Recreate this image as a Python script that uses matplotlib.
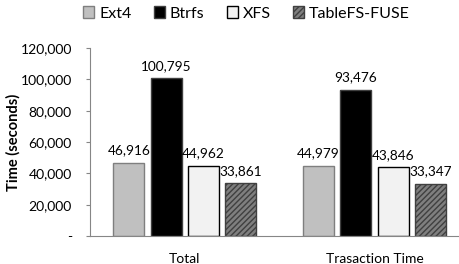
import numpy as np
import matplotlib.pyplot as plt

plt.rcParams['font.family'] = ['Lato', 'DejaVu Sans']
plt.rcParams['hatch.linewidth'] = 1.0

groups = ['Total', 'Trasaction Time']
systems = ['Ext4', 'Btrfs', 'XFS', 'TableFS-FUSE']
ext4 = [46916, 44979]
btrfs = [100795, 93476]
xfs = [44962, 43846]
tablefs = [33861, 33347]

values = [ext4, btrfs, xfs, tablefs]
faces = ['#c0c0c0', '#000000', '#f2f2f2', '#7f7f7f']
edges = ['#7f7f7f', '#404040', '#000000', '#404040']
hatches = [None, None, None, '//////']

fig = plt.figure(figsize=(4.59, 2.64), dpi=100)
ax = fig.add_axes([0.196, 0.106, 0.802, 0.712])

x = np.arange(len(groups))
step = 0.197
width = 0.163
for i, vals in enumerate(values):
    pos = x + (i - 1.5) * step
    bars = ax.bar(pos, vals, width, color=faces[i], edgecolor=edges[i],
                  linewidth=1.0, hatch=hatches[i], label=systems[i])
    for b, v in zip(bars, vals):
        ax.text(b.get_x() + b.get_width() / 2, v + 4000, f'{v:,}',
                ha='center', va='bottom', fontsize=9.8)

ax.set_xlim(-0.5, 1.44)
ax.set_ylim(0, 120000)
ax.set_yticks(range(0, 120001, 20000))
ax.set_yticklabels(['-'] + [f'{v:,}' for v in range(20000, 120001, 20000)])
ax.set_xticks(x)
ax.set_xticklabels(groups)
ax.tick_params(axis='x', length=0, pad=12, labelsize=10)
ax.tick_params(axis='y', length=3, color='#868686', labelsize=10, pad=10)
ax.spines['top'].set_visible(False)
ax.spines['right'].set_visible(False)
ax.spines['left'].set_color('#868686')
ax.spines['bottom'].set_color('#868686')
ax.set_ylabel('Time (seconds)', fontweight='bold', fontsize=10.5, labelpad=0)

fig.legend(loc='upper center', bbox_to_anchor=(0.537, 1.03), ncol=4, frameon=False,
           fontsize=11.5, handlelength=0.7, handleheight=0.7, handletextpad=0.3,
           columnspacing=1.4)

fig.savefig('out.png', dpi=100)
